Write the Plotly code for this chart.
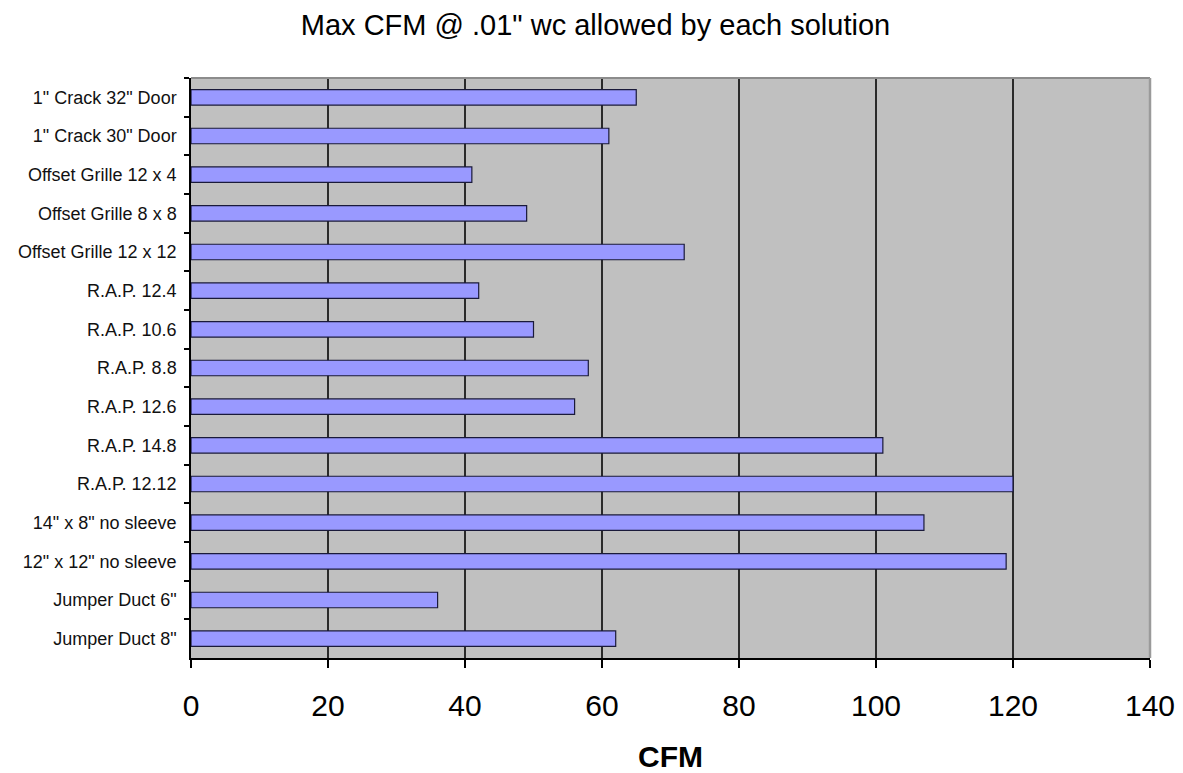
import plotly.graph_objects as go

categories = [
    '1" Crack 32" Door',
    '1" Crack 30" Door',
    'Offset Grille 12 x 4',
    'Offset Grille 8 x 8',
    'Offset Grille 12 x 12',
    'R.A.P. 12.4',
    'R.A.P. 10.6',
    'R.A.P. 8.8',
    'R.A.P. 12.6',
    'R.A.P. 14.8',
    'R.A.P. 12.12',
    '14" x 8" no sleeve',
    '12" x 12" no sleeve',
    'Jumper Duct 6"',
    'Jumper Duct 8"',
]
cfm = [65, 61, 41, 49, 72, 42, 50, 58, 56, 101, 120, 107, 119, 36, 62]
x_ticks = [0, 20, 40, 60, 80, 100, 120, 140]

font_family = "Arial, Liberation Sans, sans-serif"

fig = go.Figure()
fig.add_trace(go.Bar(
    x=cfm,
    y=categories,
    orientation="h",
    width=0.4,
    marker=dict(color="#9999FF", line=dict(color="#1a1a3a", width=1.2)),
    hoverinfo="x+y",
))

# gray top and right plot borders
fig.add_shape(type="line", xref="paper", yref="paper", x0=0, x1=1, y0=1, y1=1,
              line=dict(color="#8c8c8c", width=2), layer="above")
fig.add_shape(type="line", xref="paper", yref="paper", x0=1, x1=1, y0=0, y1=1,
              line=dict(color="#9a9a9a", width=2.5), layer="above")

fig.update_layout(
    width=1175, height=765,
    margin=dict(l=183, r=33, t=70, b=115, autoexpand=False),
    paper_bgcolor="white",
    plot_bgcolor="#C0C0C0",
    showlegend=False,
    title=dict(text='Max CFM @ .01" wc allowed by each solution',
               x=0.5, xanchor="center", y=1 - 17 / 765, yanchor="middle",
               font=dict(family=font_family, size=29, color="black")),
    font=dict(family=font_family, color="black"),
    bargap=0.6,
)

fig.update_xaxes(
    range=[0, 140],
    tickvals=x_ticks,
    ticktext=[str(v) for v in x_ticks],
    showgrid=True, gridcolor="#2a2a2a", gridwidth=1.6,
    zeroline=False,
    showline=True, linecolor="black", linewidth=1.5,
    ticks="outside", ticklen=8, tickcolor="black", tickwidth=1.5,
    tickfont=dict(size=30, family=font_family, color="black"),
    ticklabelstandoff=12,
    automargin=False,
    title=dict(text="<b>CFM</b>", font=dict(size=30, family=font_family, color="black"),
               standoff=31),
    fixedrange=True,
)

fig.update_yaxes(
    categoryorder="array", categoryarray=categories,
    autorange="reversed",
    showgrid=False, zeroline=False,
    showline=True, linecolor="black", linewidth=1.5,
    ticks="outside", ticklen=5, tickcolor="black", tickwidth=1.5,
    tickson="boundaries",
    tickfont=dict(size=18, family=font_family, color="#111111"),
    ticklabelstandoff=9,
    automargin=False,
    fixedrange=True,
)

fig.write_html("out.html")
